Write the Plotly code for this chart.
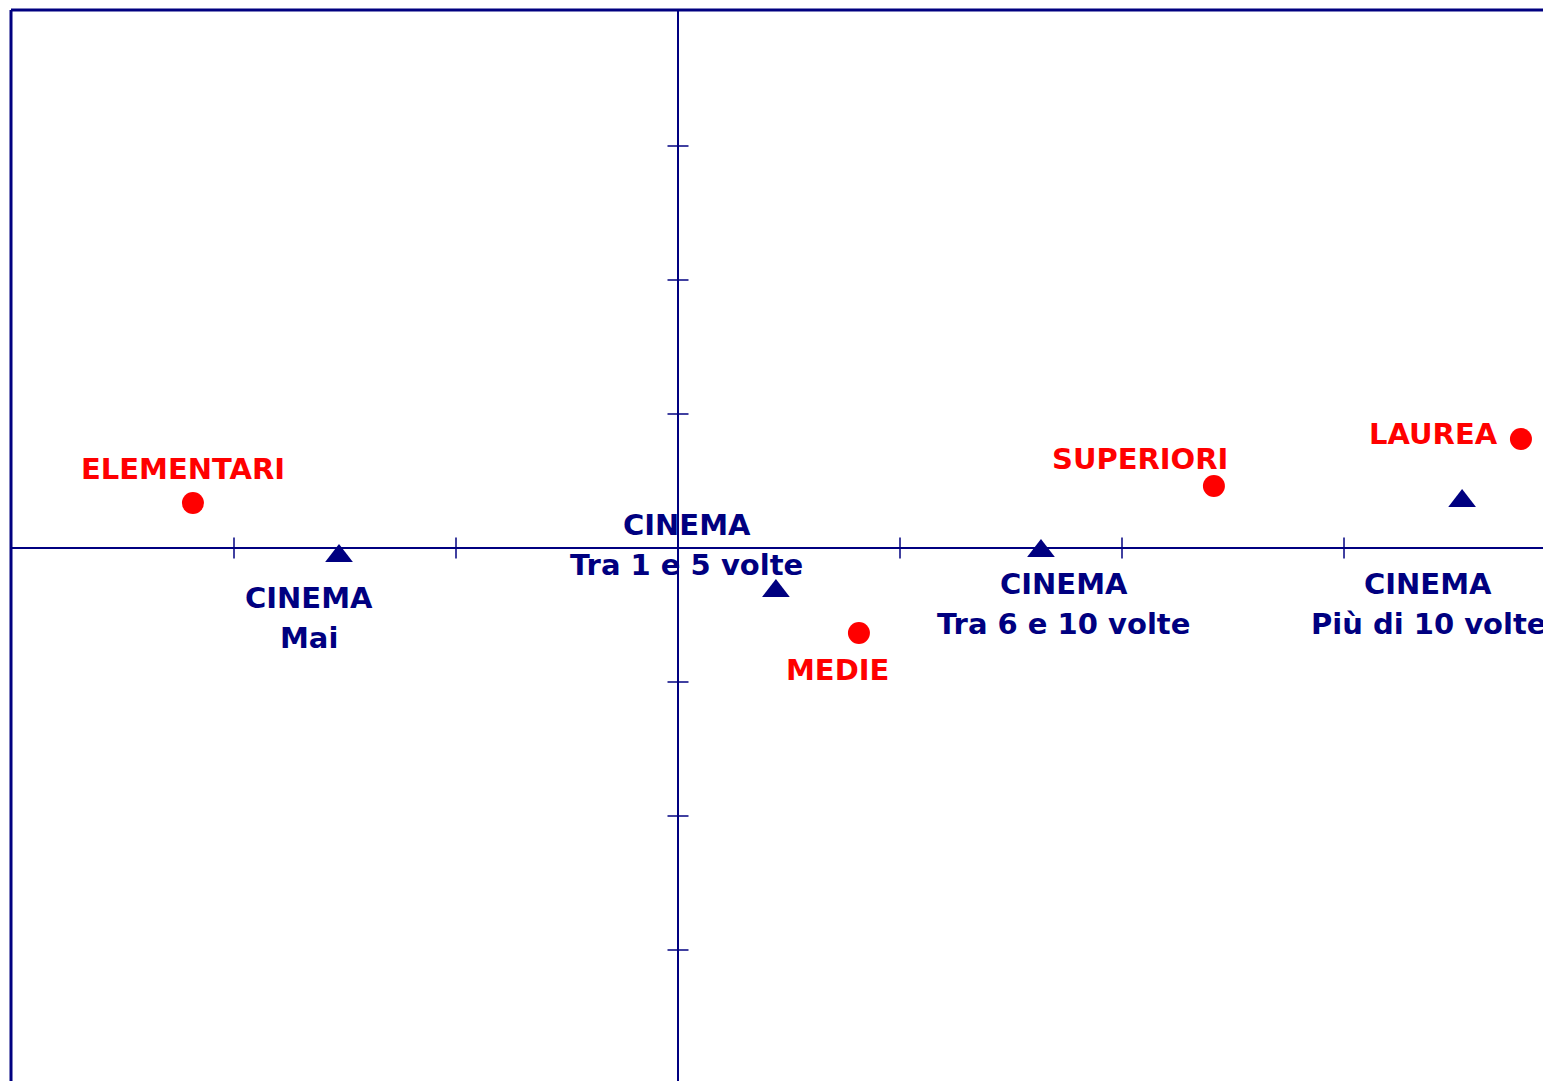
import plotly.graph_objects as go

# Education levels (red circles)
edu_labels = ["ELEMENTARI", "MEDIE", "SUPERIORI", "LAUREA"]
edu_x = [-0.2185, 0.0815, 0.2414, 0.3797]
edu_y = [0.0336, -0.0634, 0.0463, 0.0813]

# Cinema frequency (navy triangles)
cin_line1 = ["CINEMA", "CINEMA", "CINEMA", "CINEMA"]
cin_line2 = ["Mai", "Tra 1 e 5 volte", "Tra 6 e 10 volte", "Più di 10 volte"]
cin_x = [-0.1527, 0.0441, 0.1635, 0.3532]
cin_y = [-0.0060, -0.0321, -0.0022, 0.0351]

# Axis ticks
x_ticks = [-0.2, -0.1, 0.1, 0.2, 0.3]
y_ticks = [-0.3, -0.2, -0.1, 0.1, 0.2, 0.3]

NAVY = "#000080"
RED = "#ff0000"
FONT = "DejaVu Sans"

fig = go.Figure()

# tick marks on the zero axes
fig.add_trace(go.Scatter(x=x_ticks, y=[0] * len(x_ticks), mode="markers",
                         marker=dict(symbol="line-ns", size=15, line=dict(color=NAVY, width=1.5)),
                         hoverinfo="skip", showlegend=False, cliponaxis=False))
fig.add_trace(go.Scatter(x=[0] * len(y_ticks), y=y_ticks, mode="markers",
                         marker=dict(symbol="line-ew", size=15, line=dict(color=NAVY, width=1.5)),
                         hoverinfo="skip", showlegend=False, cliponaxis=False))

fig.add_trace(go.Scatter(x=edu_x, y=edu_y, mode="markers",
                         marker=dict(symbol="circle", size=22, color=RED),
                         showlegend=False, cliponaxis=False))
fig.add_trace(go.Scatter(x=cin_x, y=cin_y, mode="markers",
                         marker=dict(symbol="triangle-up", size=24, color=NAVY),
                         showlegend=False, cliponaxis=False))

edu_shift = [(-10, 34, "center"), (-21, -37, "center"), (-74, 27, "center"), (-21, 5, "right")]
for lab, x, y, (dx, dy, anc) in zip(edu_labels, edu_x, edu_y, edu_shift):
    fig.add_annotation(x=x, y=y, text=lab, showarrow=False, xshift=dx, yshift=dy,
                       xanchor=anc, yanchor="middle",
                       font=dict(family=FONT, size=29, color=RED, weight="bold"))

cin_shift = [(-30, -62), (-89, 46), (23, -53), (-34, -103)]
for l1, l2, x, y, (dx, dy) in zip(cin_line1, cin_line2, cin_x, cin_y, cin_shift):
    for lab, off in ((l1, 20), (l2, -20)):
        fig.add_annotation(x=x, y=y, text=lab, showarrow=False, xshift=dx, yshift=dy + off,
                           xanchor="center", yanchor="middle", align="center",
                           font=dict(family=FONT, size=29, color=NAVY, weight="bold"))

# frame lines (left and top)
fig.add_shape(type="line", xref="paper", yref="paper", x0=0, x1=0, y0=0, y1=1,
              line=dict(color=NAVY, width=3))
fig.add_shape(type="line", xref="paper", yref="paper", x0=0, x1=1, y0=1, y1=1,
              line=dict(color=NAVY, width=3))

fig.update_xaxes(range=[-0.30045, 0.39324], showgrid=False, showticklabels=False, ticks="",
                 zeroline=True, zerolinecolor=NAVY, zerolinewidth=2, showline=False)
fig.update_yaxes(range=[-0.39776, 0.40149], showgrid=False, showticklabels=False, ticks="",
                 zeroline=True, zerolinecolor=NAVY, zerolinewidth=2, showline=False)

fig.update_layout(width=1543, height=1073, margin=dict(l=3, r=0, t=2, b=0),
                  plot_bgcolor="white", paper_bgcolor="white", font=dict(family=FONT))

fig.write_html("out.html")
